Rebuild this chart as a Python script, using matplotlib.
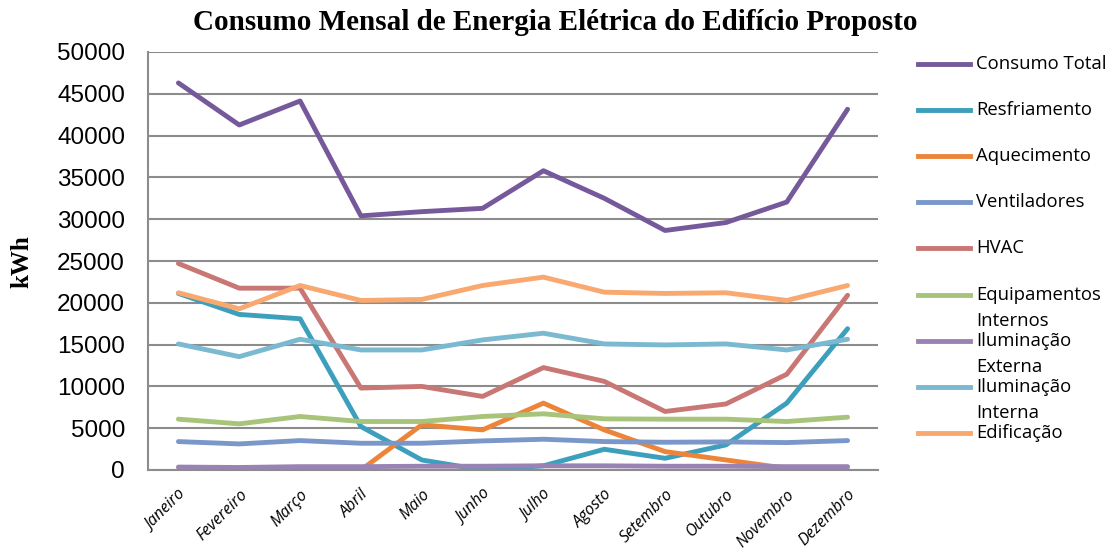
import matplotlib.pyplot as plt
from matplotlib.lines import Line2D

meses = ['Janeiro', 'Fevereiro', 'Março', 'Abril', 'Maio', 'Junho', 'Julho',
         'Agosto', 'Setembro', 'Outubro', 'Novembro', 'Dezembro']

consumo_total = [46300, 41270, 44140, 30400, 30900, 31300, 35800, 32500, 28650, 29600, 32050, 43150]
resfriamento = [21120, 18610, 18090, 5200, 1200, 0, 500, 2480, 1400, 3000, 8000, 16900]
aquecimento = [0, 0, 0, 0, 5400, 4800, 8000, 4800, 2200, 1200, 200, 0]
ventiladores = [3400, 3120, 3520, 3200, 3200, 3480, 3680, 3400, 3320, 3360, 3280, 3520]
hvac = [24700, 21750, 21750, 9800, 10000, 8800, 12250, 10600, 7000, 7900, 11450, 20900]
equipamentos = [6080, 5520, 6400, 5800, 5800, 6400, 6720, 6120, 6080, 6080, 5800, 6320]
ilum_externa = [350, 300, 400, 400, 450, 450, 500, 500, 450, 450, 400, 400]
ilum_interna = [15080, 13560, 15640, 14360, 14360, 15560, 16360, 15080, 14960, 15080, 14360, 15640]
edificacao = [21200, 19280, 22070, 20280, 20400, 22070, 23070, 21270, 21120, 21200, 20280, 22070]

series = [consumo_total, resfriamento, aquecimento, ventiladores, hvac,
          equipamentos, ilum_externa, ilum_interna, edificacao]
nomes = ['Consumo Total', 'Resfriamento', 'Aquecimento', 'Ventiladores', 'HVAC',
         'Equipamentos\nInternos', 'Iluminação\nExterna', 'Iluminação\nInterna', 'Edificação']
cores = ['#76599B', '#3C9FBB', '#EC8539', '#7A97C9', '#C97775',
         '#A7C47A', '#9983B5', '#7AB9D0', '#F9A870']

fig = plt.figure(figsize=(11.13, 5.6), dpi=100)
ax = fig.add_axes([148 / 1113, 1 - 470 / 560, 730 / 1113, 418 / 560])

x = range(len(meses))
for valores, cor in zip(series, cores):
    ax.plot(x, valores, color=cor, lw=3.5, solid_capstyle='round')

ax.set_xlim(-0.5, 11.5)
ax.set_ylim(0, 50000)
ax.set_yticks(range(0, 50001, 5000))
ax.grid(axis='y', color='#8C8C8C', lw=1.5)
ax.set_axisbelow(True)
for lado in ['top', 'right']:
    ax.spines[lado].set_visible(False)
for lado in ['left', 'bottom']:
    ax.spines[lado].set_color('#8C8C8C')
    ax.spines[lado].set_linewidth(1.5)
ax.tick_params(length=0)
ax.tick_params(axis='y', labelsize=17.5, pad=16.5)
for t in ax.get_yticklabels():
    t.set_fontfamily('Liberation Sans')
ax.set_xticks(list(x))
ax.set_xticklabels(meses, rotation=45, ha='right', rotation_mode='anchor',
                   fontsize=11.5, family='Open Sans', style='italic')
ax.tick_params(axis='x', pad=12)

fig.text(555 / 1113, 1 - 23 / 560, 'Consumo Mensal de Energia Elétrica do Edifício Proposto',
         ha='center', va='center', family='Liberation Serif', weight='bold', fontsize=21)
fig.text(22 / 1113, 1 - 262 / 560, 'kWh', rotation=90, ha='center', va='center',
         family='Liberation Serif', weight='bold', fontsize=18)

# legenda manual (texto em duas linhas como no Excel)
for i, (nome, cor) in enumerate(zip(nomes, cores)):
    y = 64 + i * 46.1
    fig.add_artist(Line2D([918 / 1113, 970 / 1113], [1 - y / 560, 1 - y / 560],
                          color=cor, lw=3.5, transform=fig.transFigure))
    for j, linha in enumerate(nome.split('\n')):
        fig.text(976 / 1113, 1 - (y + j * 26) / 560, linha, ha='left', va='center',
                 fontsize=13.3, family='Open Sans')

fig.savefig('out.png', dpi=100)
